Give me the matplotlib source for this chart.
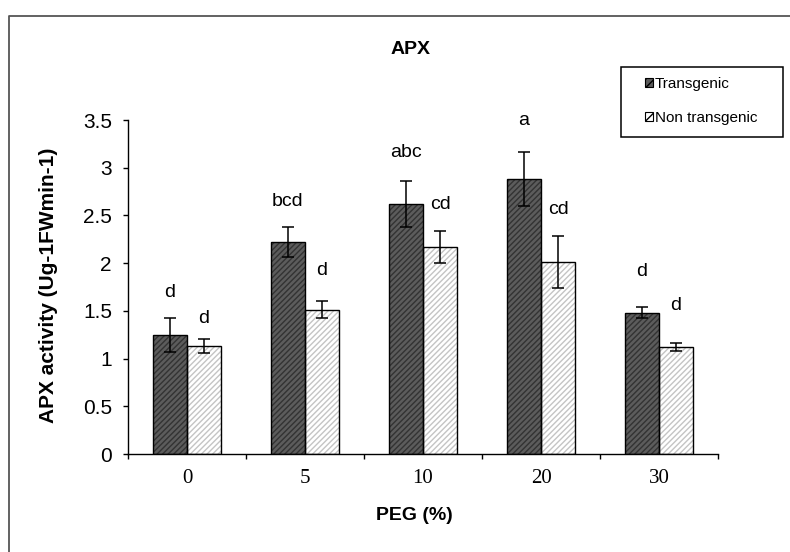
import numpy as np
import matplotlib.pyplot as plt
from matplotlib.lines import Line2D
from matplotlib.patches import Rectangle

# data
peg_levels = ["0", "5", "10", "20", "30"]
transgenic = [1.25, 2.22, 2.62, 2.88, 1.48]
transgenic_err = [0.18, 0.16, 0.245, 0.28, 0.06]
non_transgenic = [1.13, 1.51, 2.17, 2.01, 1.12]
non_transgenic_err = [0.07, 0.09, 0.17, 0.27, 0.04]
transgenic_letters = ["d", "bcd", "abc", "a", "d"]
non_transgenic_letters = ["d", "d", "cd", "cd", "d"]

# gap between top of error bar and letter centre
pad_t = [0.26, 0.27, 0.29, 0.33, 0.37]
pad_nt = [0.22, 0.32, 0.27, 0.28, 0.40]

sans = "Liberation Sans"
serif = "Liberation Serif"

fig = plt.figure(figsize=(7.9, 5.52), dpi=100)
ax = fig.add_axes([128/790, 1 - 454/552, 590/790, 334/552])

x = np.arange(len(peg_levels))
w = 0.29
xt = x - w/2
xn = x + w/2

# hatched fills, then black outlines on top
ax.bar(xt, transgenic, w, color="#5c5c5c", edgecolor="#333333", hatch="//////", linewidth=0)
ax.bar(xn, non_transgenic, w, color="white", edgecolor="#c4c4c4", hatch="//////", linewidth=0)
ax.bar(xt, transgenic, w, fill=False, edgecolor="black", linewidth=1.0)
ax.bar(xn, non_transgenic, w, fill=False, edgecolor="black", linewidth=1.0)

ax.errorbar(xt, transgenic, yerr=transgenic_err, fmt="none", ecolor="black", elinewidth=1.1, capsize=4.5, capthick=1.1)
ax.errorbar(xn, non_transgenic, yerr=non_transgenic_err, fmt="none", ecolor="black", elinewidth=1.1, capsize=4.5, capthick=1.1)

for i in range(len(peg_levels)):
    ax.text(xt[i], transgenic[i] + transgenic_err[i] + pad_t[i], transgenic_letters[i],
            ha="center", va="center", fontsize=14, family=sans)
    ax.text(xn[i], non_transgenic[i] + non_transgenic_err[i] + pad_nt[i], non_transgenic_letters[i],
            ha="center", va="center", fontsize=14, family=sans)

ax.set_xlim(-0.5, 4.5)
ax.set_ylim(0, 3.5)
ax.set_yticks(np.arange(0, 3.51, 0.5))
ax.set_yticklabels(["0", "0.5", "1", "1.5", "2", "2.5", "3", "3.5"], family=sans, fontsize=15)
ax.set_xticks(x)
ax.set_xticklabels(peg_levels, family=serif, fontsize=15)
ax.set_xticks(np.arange(-0.5, 4.6, 1), minor=True)
ax.tick_params(axis="x", which="major", length=0, pad=11)
ax.tick_params(axis="x", which="minor", length=3.6, width=1, direction="out")
ax.tick_params(axis="y", length=3.6, width=1, direction="out", pad=8)

ax.spines["top"].set_visible(False)
ax.spines["right"].set_visible(False)
ax.spines["left"].set_linewidth(1)
ax.spines["bottom"].set_linewidth(1)

fig.text(49/790, 1 - 285/552, "APX activity (Ug-1FWmin-1)", rotation=90, ha="center", va="center",
         family=sans, fontsize=15, fontweight="bold")
fig.text(414/790, 1 - 515/552, "PEG (%)", ha="center", va="center", family=sans, fontsize=14, fontweight="bold")
fig.text(411/790, 1 - 49/552, "APX", ha="center", va="center", family=sans, fontsize=14, fontweight="bold")

# legend with its own frame
handles = [Rectangle((0, 0), 1, 1, facecolor="#5c5c5c", edgecolor="black", hatch="////", linewidth=0.8),
           Rectangle((0, 0), 1, 1, facecolor="white", edgecolor="black", hatch="////", linewidth=0.8)]
fig.legend(handles, ["Transgenic", "Non transgenic"], loc="upper left",
           bbox_to_anchor=(645/790, 1 - 77/552), frameon=False,
           prop={"family": sans, "size": 11}, handlelength=0.55, handleheight=0.55,
           handletextpad=0.1, labelspacing=1.3, borderpad=0, borderaxespad=0)
fig.patches.append(Rectangle((621/790, 1 - 137/552), 162/790, 70/552, transform=fig.transFigure,
                             fill=False, edgecolor="black", linewidth=1.1))

# outer chart border (left and top edges visible)
fig.add_artist(Line2D([9/790, 9/790, 1.01], [0, 1 - 16/552, 1 - 16/552], transform=fig.transFigure,
                      color="#555555", linewidth=1.3))

fig.savefig("out.png", dpi=100)
